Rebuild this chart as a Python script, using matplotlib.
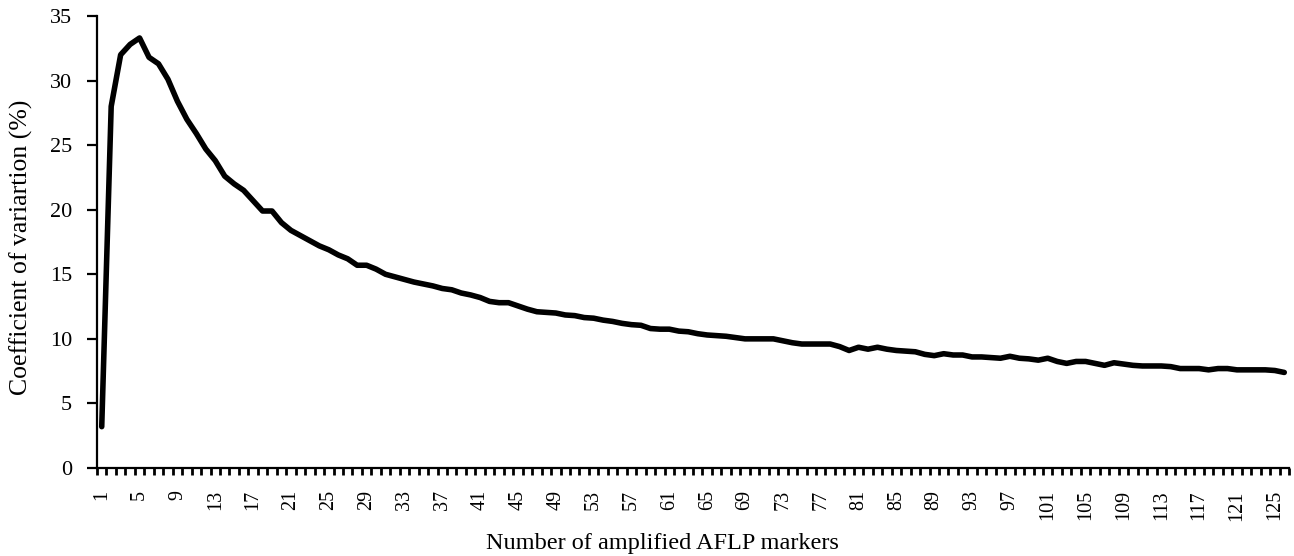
import matplotlib
matplotlib.use('Agg')
import matplotlib.pyplot as plt
import numpy as np

plt.rcParams['font.family'] = ['Liberation Serif', 'DejaVu Serif']

# Coefficient of variation (%) for 1..126 amplified AFLP markers
markers = list(range(1, 127))
cv = [
    3.2, 28.0, 32.0, 32.8, 33.3, 31.8, 31.3, 30.1, 28.4, 27.0,
    25.9, 24.7, 23.8, 22.6, 22.0, 21.5, 20.7, 19.9, 19.9, 19.0,
    18.4, 18.0, 17.6, 17.2, 16.9, 16.5, 16.2, 15.7, 15.7, 15.4,
    15.0, 14.8, 14.6, 14.4, 14.25, 14.1, 13.9, 13.8, 13.55, 13.4,
    13.2, 12.9, 12.8, 12.8, 12.55, 12.3, 12.1, 12.05, 12.0, 11.85,
    11.8, 11.65, 11.6, 11.45, 11.35, 11.2, 11.1, 11.05, 10.8, 10.75,
    10.75, 10.6, 10.55, 10.4, 10.3, 10.25, 10.2, 10.1, 10.0, 10.0,
    10.0, 10.0, 9.85, 9.7, 9.6, 9.6, 9.6, 9.6, 9.4, 9.1,
    9.35, 9.2, 9.35, 9.2, 9.1, 9.05, 9.0, 8.8, 8.7, 8.85,
    8.75, 8.75, 8.6, 8.6, 8.55, 8.5, 8.65, 8.5, 8.45, 8.35,
    8.5, 8.25, 8.1, 8.25, 8.25, 8.1, 7.95, 8.15, 8.05, 7.95,
    7.9, 7.9, 7.9, 7.85, 7.7, 7.7, 7.7, 7.6, 7.7, 7.7,
    7.6, 7.6, 7.6, 7.6, 7.55, 7.4,
]
label_markers = list(range(1, 126, 4))
y_ticks = [0, 5, 10, 15, 20, 25, 30, 35]

W, H = 1294, 556
fig = plt.figure(figsize=(W / 100, H / 100), dpi=100)
ax = fig.add_axes([97 / W, 88 / H, (1289 - 97) / W, (468 - 16) / H])

ax.plot(markers, cv, color='black', linewidth=4.0, solid_joinstyle='round',
        solid_capstyle='round')

ax.set_xlim(0.5, len(markers) + 0.5)
ax.set_ylim(0, 35)

# labels at category centres, tick marks between categories
ax.set_xticks(label_markers)
ax.set_xticklabels([str(m) for m in label_markers], rotation=90, fontsize=14.5)
ax.set_xticks(np.arange(0.5, len(markers) + 1, 1), minor=True)
ax.tick_params(axis='x', which='major', length=0, pad=16)
ax.tick_params(axis='x', which='minor', length=5, width=2, direction='out')

ax.set_yticks(y_ticks)
ax.set_yticklabels([str(v) for v in y_ticks], fontsize=16)
ax.tick_params(axis='y', length=7, width=1.6, direction='out', pad=11)

for side in ['top', 'right']:
    ax.spines[side].set_visible(False)
for side in ['left', 'bottom']:
    ax.spines[side].set_linewidth(1.6)

fig.text(662 / W, 1 - 543 / H, 'Number of amplified AFLP markers',
         ha='center', va='center', fontsize=17.5)
fig.text(21 / W, 1 - 247 / H, 'Coefficient of variartion (%)',
         ha='center', va='center', rotation=90, fontsize=18.5)

fig.savefig('out.png', dpi=100)
